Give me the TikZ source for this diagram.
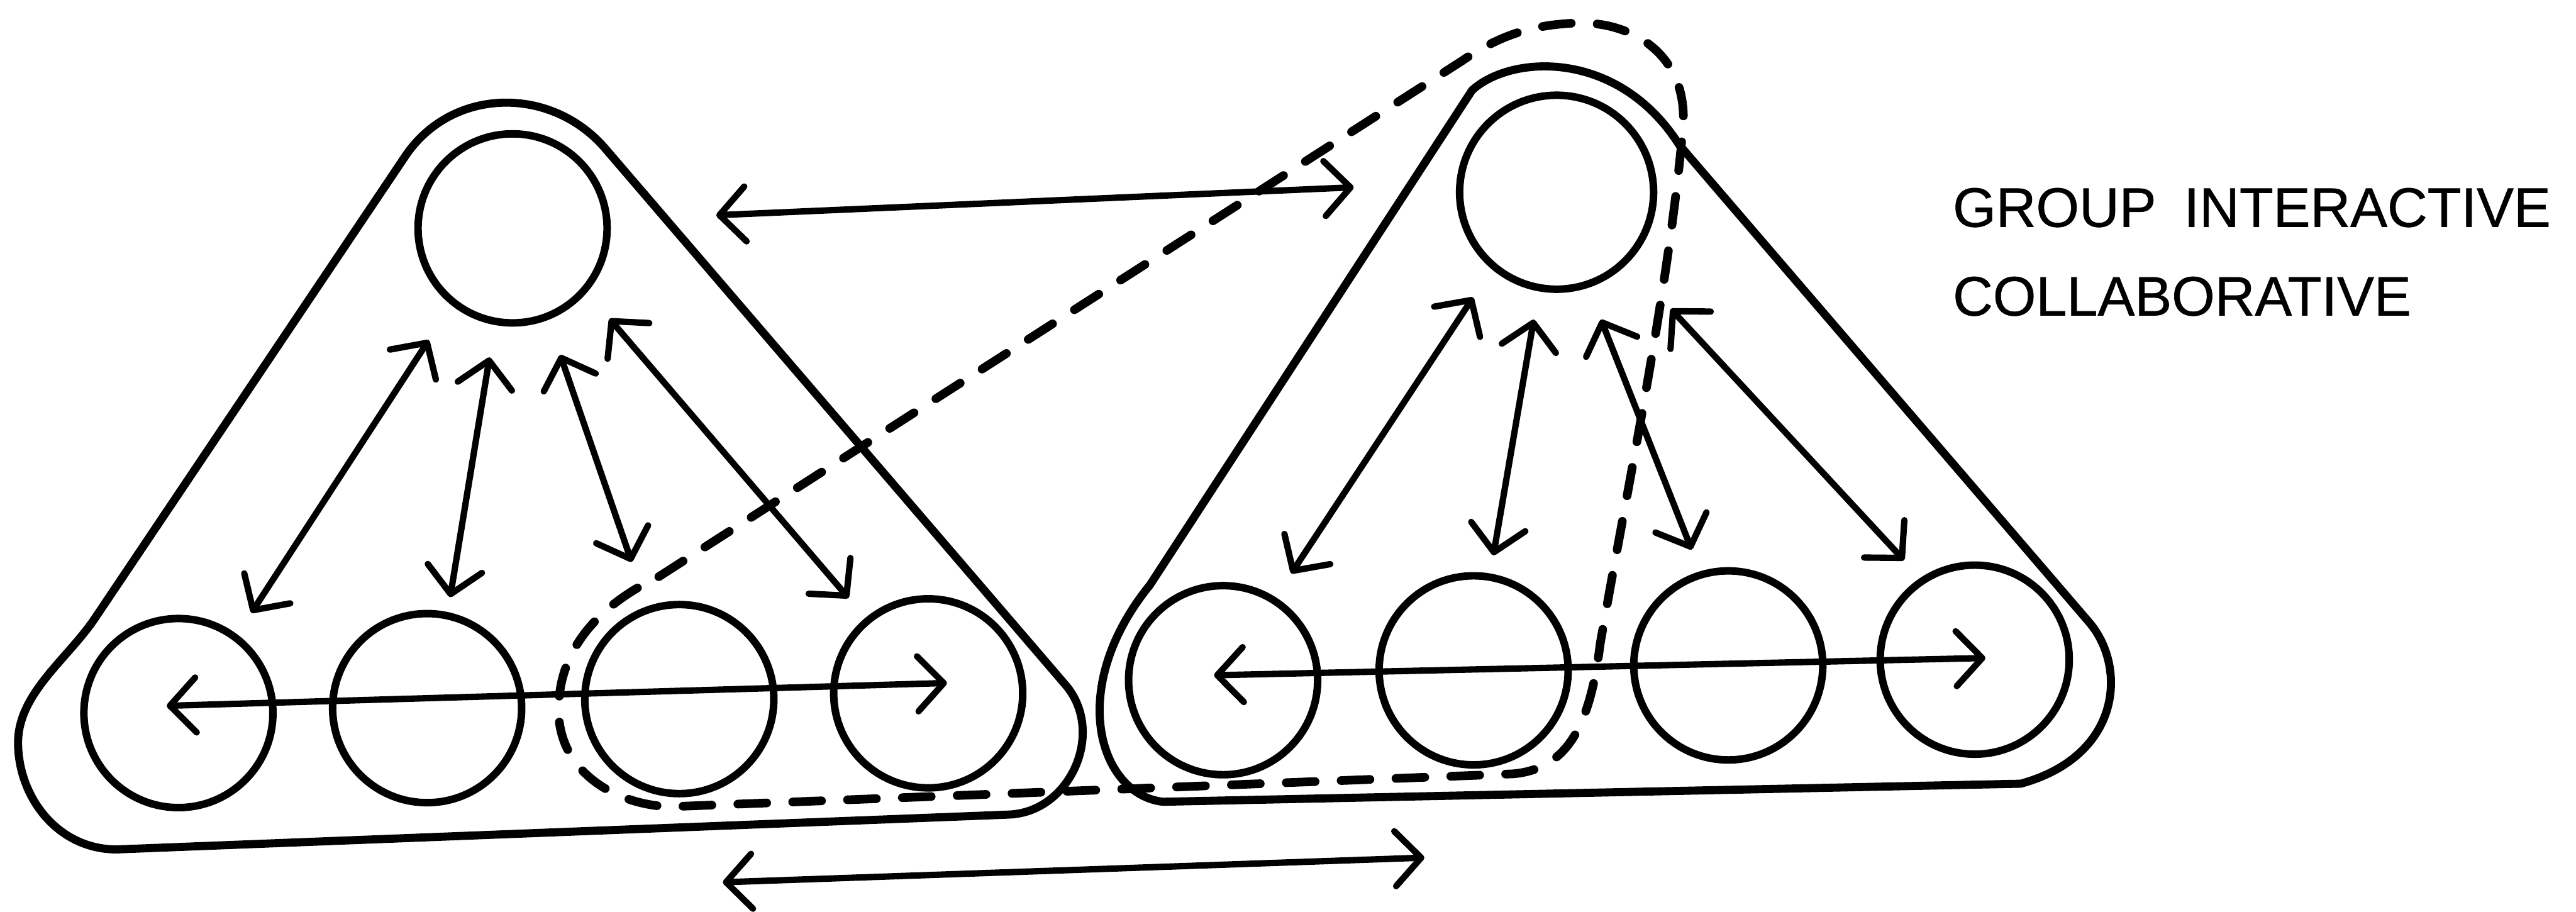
\documentclass[tikz,border=0pt]{standalone}
\usepackage{fontspec}
\setmainfont{Liberation Sans}
\newfontfamily\capfont{Liberation Sans}[FakeBold=0.7]
\usetikzlibrary{arrows.meta}
\begin{document}
\begin{tikzpicture}[x=0.01cm,y=-0.01cm,
  member/.style={circle,draw,line width=1.3pt,minimum size=1.15cm,inner sep=0pt},
  hull/.style={line width=1.4pt,line join=round},
  link/.style={line width=1.1pt,line cap=round,
    {Straight Barb[length=4.5pt,width=9.5pt,round]}-{Straight Barb[length=4.5pt,width=9.5pt,round]}},
  coalition/.style={line width=1.5pt,dash pattern=on 5pt off 4.5pt,line cap=round,line join=round},
  caption/.style={anchor=base west,inner sep=0pt,font=\capfont\fontsize{9.6}{12}\selectfont}]
\useasboundingbox (0,0) rectangle (1568,555);

% ---------- left group ----------
\node[member] (LT) at (312,139) {};
\node[member] (L1) at (108.6,434) {};
\node[member] (L2) at (260,431) {};
\node[member] (L3) at (413.5,425.5) {};
\node[member] (L4) at (565,422) {};

% ---------- right group ----------
\node[member,minimum size=1.18cm] (RT) at (947.5,117) {};
\node[member] (R1) at (744.5,414) {};
\node[member] (R2) at (897,408) {};
\node[member] (R3) at (1052,405) {};
\node[member] (R4) at (1202,401.5) {};

% ---------- group outlines ----------
\draw[hull] (246.6,95.2) .. controls (274.9,52.9) and (335.4,51.9) .. (368.5,90.5)
  -- (648.6,416.9) .. controls (673.1,445.5) and (651.7,494.4) .. (614,495.8)
  -- (71,517) .. controls (35,517) and (11,485) .. (11,452)
  .. controls (11,422) and (41.3,401) .. (58,376) -- cycle;

\draw[hull] (896,55) .. controls (920,33) and (985,30) .. (1022,88)
  -- (1271,378) .. controls (1295,405) and (1292,460) .. (1230,477)
  -- (708,488) .. controls (670,484) and (648,420) .. (700,356) -- cycle;

% ---------- dashed coalition ----------
\draw[coalition] (401,351) -- (890,37)
  .. controls (915,20) and (935,15) .. (960,14)
  .. controls (995,13) and (1030,35) .. (1024,82)
  .. controls (1015,180) and (990,300) .. (974,392)
  .. controls (968,440) and (955,468) .. (921,471)
  -- (408,491)
  .. controls (375,490) and (340,470) .. (340,432)
  .. controls (340,395) and (365,368) .. (401,351);

% ---------- arrow end points ----------
\coordinate (lha) at (101.5,429.6); \coordinate (lhb) at (576.4,415.7);
\coordinate (l1a) at (261,207);     \coordinate (l1b) at (153,373);
\coordinate (l2a) at (298,217.5);   \coordinate (l2b) at (274,363.5);
\coordinate (l3a) at (341,216);     \coordinate (l3b) at (384.5,342);
\coordinate (l4a) at (371,194);     \coordinate (l4b) at (516.5,364);
\coordinate (ta)  at (436,131);     \coordinate (tb)  at (824,114);
\coordinate (ba)  at (440,537);     \coordinate (bb)  at (867,522);
\coordinate (rha) at (739,411);     \coordinate (rhb) at (1208.5,400.5);
\coordinate (r1a) at (896.7,181);   \coordinate (r1b) at (786,349);
\coordinate (r2a) at (933.6,194.5); \coordinate (r2b) at (909,338);
\coordinate (r3a) at (974.5,194.5); \coordinate (r3b) at (1029.7,334.5);
\coordinate (r4a) at (1017,188);    \coordinate (r4b) at (1159,341);

% ---------- arrows ----------
\draw[link] (lha) -- (lhb);
\draw[link] (l1a) -- (l1b);
\draw[link] (l2a) -- (l2b);
\draw[link] (l3a) -- (l3b);
\draw[link] (l4a) -- (l4b);
\draw[link] (ta) -- (tb);
\draw[link] (ba) -- (bb);
\draw[link] (rha) -- (rhb);
\draw[link] (r1a) -- (r1b);
\draw[link] (r2a) -- (r2b);
\draw[link] (r3a) -- (r3b);
\draw[link] (r4a) -- (r4b);

% ---------- text ----------
\node[caption] (t1) at (1188,138) {GROUP\hspace{0.5em}INTERACTIVE};
\node[caption] (t2) at (1188,192) {COLLABORATIVE};
\end{tikzpicture}
\end{document}
